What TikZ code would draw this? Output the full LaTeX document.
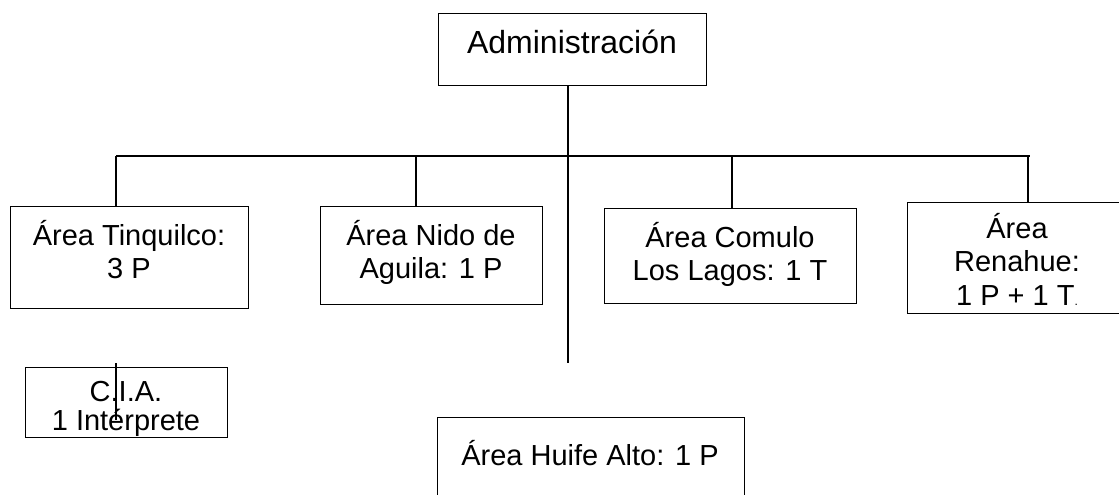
\documentclass[tikz,border=0pt]{standalone}
\usepackage{fontspec}
\setmainfont{Liberation Sans}
\newcommand{\mlines}[1]{\begin{tabular}[t]{@{}c@{}}#1\end{tabular}}
\begin{document}
\begin{tikzpicture}[x=1pt,y=-1pt,
  box/.style={draw, line width=1.3pt, rectangle, inner sep=0pt, anchor=north west},
  link/.style={line width=1.6pt},
  txt/.style={inner sep=0pt, anchor=base, font=\fontsize{29}{33.5}\selectfont}]
\useasboundingbox (0,0) rectangle (1119,495);
\clip (0,0) rectangle (1119,495);
% boxes
\node[box, minimum width=268pt, minimum height=72pt] (adm) at (438,13) {};
\node[box, minimum width=238pt, minimum height=102pt] (tin) at (10,206) {};
\node[box, minimum width=222pt, minimum height=98pt] (nid) at (320,206) {};
\node[box, minimum width=252pt, minimum height=95pt] (com) at (604,208) {};
\node[box, minimum width=225pt, minimum height=111pt] (ren) at (907,202) {};
\node[box, minimum width=202pt, minimum height=70pt] (cia) at (25,367) {};
\node[box, minimum width=307pt, minimum height=120pt] (hui) at (437,417) {};
% texts
\node[txt, font=\fontsize{32}{36}\selectfont] (admT) at (572,54) {Administración};
\node[txt] (tinT) at (129,245) {\mlines{Área Tinquilco:\\3 P}};
\node[txt] (nidT) at (431,245) {\mlines{Área Nido de\\Aguila: 1 P}};
\node[txt] (comT) at (730,247) {\mlines{Área Comulo\\Los Lagos: 1 T}};
\node[txt] (renT) at (1017,238) {\mlines{Área\\Renahue:\\1 P + 1 T{\fontsize{12}{12}\selectfont .}}};
\node[txt, font=\fontsize{29}{28}\selectfont] (ciaT) at (126,401) {\mlines{C.I.A.\\1 Intérprete}};
\node[txt] (huiT) at (590,465) {Área Huife Alto: 1 P};
% connectors
\coordinate (busL) at (116,156);
\coordinate (busR) at (1030,156);
\coordinate (stemEnd) at (568,363);
\coordinate (dNid) at (416,156);
\coordinate (dCom) at (732,156);
\coordinate (dRen) at (1028,156);
\coordinate (ciaA) at (116,363);
\coordinate (ciaB) at (116,420);
\draw[link] (adm.south -| stemEnd) -- (stemEnd);
\draw[link] (busL) -- (busR);
\draw[link] (busL) -- (tin.north -| busL);
\draw[link] (dNid) -- (nid.north -| dNid);
\draw[link] (dCom) -- (com.north -| dCom);
\draw[link] (dRen) -- (ren.north -| dRen);
\draw[link] (ciaA) -- (ciaB);
\end{tikzpicture}
\end{document}
